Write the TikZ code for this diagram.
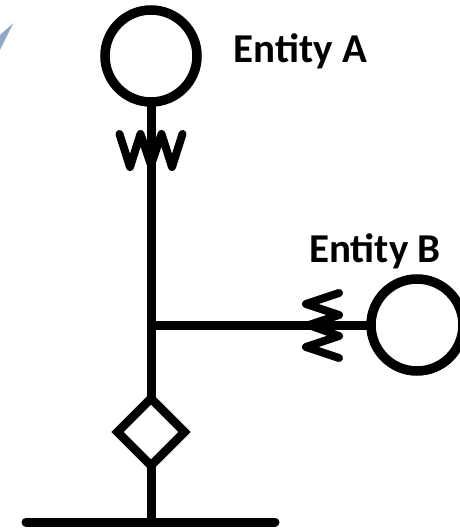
\documentclass[tikz,border=0pt]{standalone}
\usepackage{fontspec}
\setmainfont{Carlito}
\usetikzlibrary{calc,shapes.geometric}
\definecolor{LineClr}{rgb}{0,0,0}
\definecolor{SliverClr}{HTML}{8FA8C8}
\tikzset{
  entity/.style={circle,draw=LineClr,line width=9.5pt,minimum size=92pt,inner sep=0pt,outer sep=0pt},
  valve/.style={diamond,draw=LineClr,line width=8.5pt,minimum size=67pt,inner sep=0pt,outer sep=0pt},
  link/.style={draw=LineClr,line width=9pt},
  spring/.style={draw=LineClr,line width=8pt,line cap=round,line join=round},
  tag/.style={font=\fontsize{41}{46}\selectfont\bfseries,inner sep=0pt,anchor=base}
}

\begin{document}
\begin{tikzpicture}[x=1pt,y=-1pt]
\useasboundingbox (0,0) rectangle (459,529);

\fill[SliverClr] (13.5,23) -- (0,35) -- (0,50) -- cycle;

\node[entity] (EntA) at (151,56) {};
\node[entity] (EntB) at (417,325) {};
\node[valve] (Valve) at (151,432) {};
\coordinate (Tee) at (151,325);
\coordinate (GndL) at (26,522);
\coordinate (GndR) at (275,522);
\coordinate (GndM) at (151,522);

\draw[link] (EntA) -- (Valve);
\draw[link] (Tee) -- (EntB);
\draw[link] (Valve) -- (GndM);
\draw[link,line cap=round] (GndL) -- (GndR);

\draw[spring] (119.5,134) -- (130,167) -- (140.5,134) -- (151,165) -- (161.5,134) -- (172,167) -- (182.5,134);
\draw[spring] (339,293) -- (306,304) -- (339,315) -- (309,325) -- (339,336) -- (306,347) -- (339,358);

\node[tag] (LblA) at (300.5,63) {Entity A};
\node[tag] (LblB) at (375,262) {Entity B};

\end{tikzpicture}
\end{document}
